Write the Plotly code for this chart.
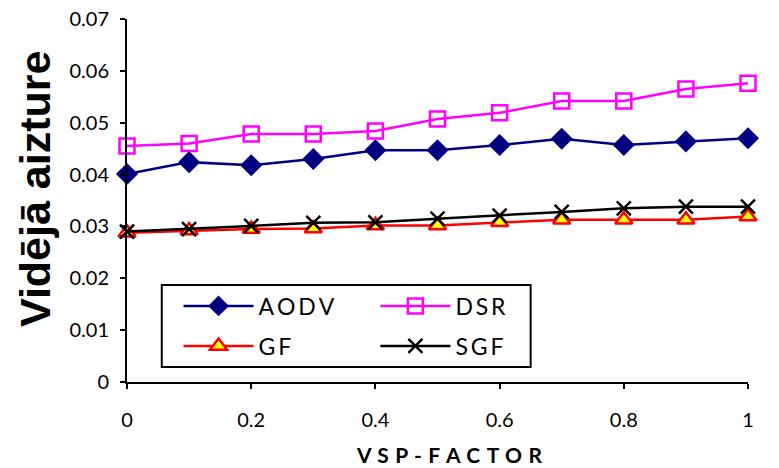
import plotly.graph_objects as go

vsp = [0, 0.1, 0.2, 0.3, 0.4, 0.5, 0.6, 0.7, 0.8, 0.9, 1.0]
aodv = [0.0401, 0.0424, 0.0418, 0.0430, 0.0447, 0.0447, 0.0457, 0.0469, 0.0457, 0.0464, 0.0470]
dsr = [0.0455, 0.0460, 0.0478, 0.0478, 0.0484, 0.0507, 0.0519, 0.0542, 0.0542, 0.0565, 0.0576]
gf = [0.0288, 0.0292, 0.0295, 0.0296, 0.0302, 0.0302, 0.0308, 0.0313, 0.0313, 0.0313, 0.0319]
sgf = [0.0290, 0.0295, 0.0301, 0.0307, 0.0308, 0.0315, 0.0321, 0.0328, 0.0335, 0.0338, 0.0338]

series_names = ["AODV", "GF", "DSR", "SGF"]
x_ticks = [0, 0.2, 0.4, 0.6, 0.8, 1]
y_ticks = [0, 0.01, 0.02, 0.03, 0.04, 0.05, 0.06, 0.07]
x_title = "VSP-FACTOR"
y_title = "Vidējā aizture"


def spaced(s, sep):
    return sep.join(list(s))


LW = 2.5
fig = go.Figure()
fig.add_trace(go.Scatter(x=vsp, y=aodv, name=spaced(series_names[0], "\u2009"), mode="lines+markers", legend="legend",
                         line=dict(color="#000080", width=LW),
                         marker=dict(symbol="diamond", size=17, color="#000080", line=dict(width=0))))
fig.add_trace(go.Scatter(x=vsp, y=gf, name=spaced(series_names[1], "\u2009"), mode="lines+markers", legend="legend2",
                         line=dict(color="#FF0000", width=LW),
                         marker=dict(symbol="triangle-up", size=15, color="#FFFF00",
                                     line=dict(color="#FF0000", width=2.5))))
fig.add_trace(go.Scatter(x=vsp, y=dsr, name=spaced(series_names[2], "\u2009"), mode="lines+markers", legend="legend3",
                         line=dict(color="#FF00FF", width=LW),
                         marker=dict(symbol="square-open", size=15, color="#FF00FF", line=dict(width=2.5))))
fig.add_trace(go.Scatter(x=vsp, y=sgf, name=spaced(series_names[3], "\u2009"), mode="lines+markers", legend="legend4",
                         line=dict(color="#000000", width=LW),
                         marker=dict(symbol="x-thin-open", size=14, color="#000000", line=dict(width=2.5, color="#000000"))))

for tr in fig.data:
    tr.cliponaxis = False

legend_font = dict(family="Lato, Open Sans, sans-serif", size=23, color="#000000")


def leg(x, y):
    return dict(x=x, y=y, xanchor="left", yanchor="middle", orientation="v",
                bgcolor="rgba(0,0,0,0)", borderwidth=0, font=legend_font,
                itemwidth=70, tracegroupgap=0)


row1 = (382 - 306) / 363
row2 = (382 - 346) / 363
fig.update_layout(
    width=779, height=468,
    margin=dict(l=127, r=31, t=19, b=86),
    plot_bgcolor="white", paper_bgcolor="white",
    showlegend=True,
    legend=leg(0.083, row1),
    legend2=leg(0.083, row2),
    legend3=leg(0.40, row1),
    legend4=leg(0.40, row2),
    shapes=[dict(type="rect", xref="paper", yref="paper", x0=0.056, x1=0.650, y0=0.041, y1=0.267,
                 line=dict(color="black", width=2), fillcolor="white", layer="above")],
    annotations=[
        dict(text="<b>" + spaced(x_title, " \u200a") + "</b>", xref="paper", yref="paper",
             x=(449 - 127) / 621, y=(382 - 454) / 363, xanchor="center", yanchor="middle",
             showarrow=False, font=dict(family="Lato, Open Sans, sans-serif", size=21, color="black")),
        dict(text="<b>" + y_title + "</b>", xref="paper", yref="paper", textangle=-90,
             x=(35 - 127) / 621, y=(382 - 189) / 363, xanchor="center", yanchor="middle",
             showarrow=False, font=dict(family="Liberation Sans, Arial, sans-serif", size=43, color="black")),
    ],
    xaxis=dict(range=[0, 1], tickvals=x_ticks, ticktext=[str(v) for v in x_ticks],
               automargin=False,
               showgrid=False, zeroline=False, showline=True, linecolor="black", linewidth=2,
               ticks="outside", ticklen=5, tickwidth=2, tickcolor="black",
               ticklabelstandoff=14,
               tickfont=dict(family="Lato, Open Sans, sans-serif", size=20, color="black")),
    yaxis=dict(range=[0, 0.07], tickvals=y_ticks,
               ticktext=["0", "0.01", "0.02", "0.03", "0.04", "0.05", "0.06", "0.07"],
               automargin=False,
               showgrid=False, zeroline=False, showline=True, linecolor="black", linewidth=2,
               ticks="outside", ticklen=5, tickwidth=2, tickcolor="black",
               ticklabelstandoff=7,
               tickfont=dict(family="Lato, Open Sans, sans-serif", size=20, color="black")),
)

fig.write_html("out.html")
